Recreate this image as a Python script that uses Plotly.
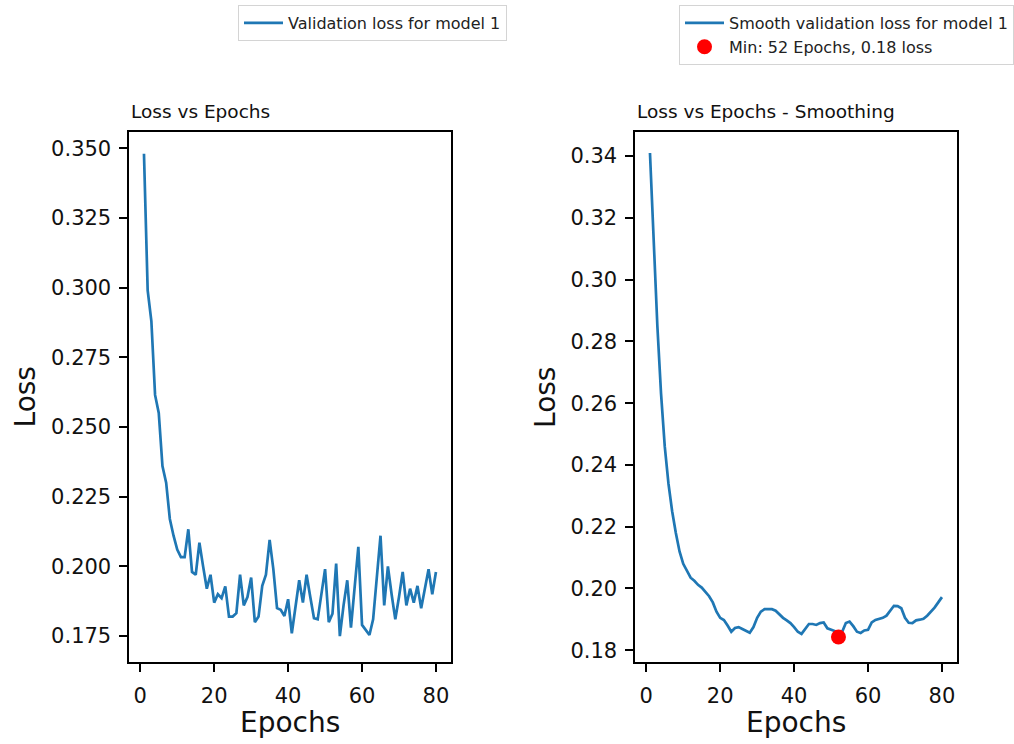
import plotly.graph_objects as go

# Validation loss per epoch (raw) and its smoothed version
epochs = list(range(1, 81))

val_loss = [
    0.348, 0.299, 0.288, 0.2615, 0.255, 0.236, 0.230, 0.217, 0.211, 0.206,
    0.2033, 0.2033, 0.2133, 0.198, 0.197, 0.2085, 0.200, 0.192, 0.197, 0.187,
    0.190, 0.1886, 0.1928, 0.182, 0.182, 0.1832, 0.197, 0.186, 0.189, 0.196,
    0.180, 0.182, 0.193, 0.197, 0.2095, 0.199, 0.185, 0.1844, 0.1822, 0.1882,
    0.176, 0.186, 0.195, 0.187, 0.197, 0.189, 0.1814, 0.181, 0.190, 0.199,
    0.180, 0.183, 0.201, 0.175, 0.186, 0.195, 0.178, 0.193, 0.207, 0.179,
    0.177, 0.1754, 0.181, 0.196, 0.211, 0.186, 0.200, 0.190, 0.181, 0.189,
    0.198, 0.186, 0.192, 0.187, 0.193, 0.185, 0.192, 0.199, 0.190, 0.198,
]

smooth_loss = [
    0.341, 0.312, 0.285, 0.263, 0.246, 0.234, 0.225, 0.218, 0.212, 0.208,
    0.2055, 0.2035, 0.2025, 0.2012, 0.2003, 0.199, 0.1975, 0.1955, 0.1925, 0.1905,
    0.1898, 0.188, 0.186, 0.1872, 0.1875, 0.1869, 0.1862, 0.1857, 0.1875, 0.1905,
    0.1925, 0.1933, 0.1933, 0.1933, 0.1928, 0.1915, 0.1905, 0.1897, 0.1888, 0.1875,
    0.186, 0.1853, 0.1868, 0.1885, 0.1885, 0.1882, 0.1888, 0.189, 0.1871, 0.1866,
    0.1862, 0.1843, 0.186, 0.1888, 0.1893, 0.1878, 0.186, 0.1856, 0.1864, 0.1866,
    0.189, 0.1898, 0.1901, 0.1905, 0.1912, 0.1928, 0.1944, 0.1943, 0.1936, 0.1905,
    0.1889, 0.1888, 0.1897, 0.1899, 0.1902, 0.1912, 0.1925, 0.1938, 0.1955, 0.1972,
]

x_ticks = [0, 20, 40, 60, 80]
left_y_ticks = [0.175, 0.200, 0.225, 0.250, 0.275, 0.300, 0.325, 0.350]
right_y_ticks = [0.18, 0.20, 0.22, 0.24, 0.26, 0.28, 0.30, 0.32, 0.34]

# best epoch of the smoothed curve
min_idx = min(range(len(smooth_loss)), key=lambda i: smooth_loss[i])
min_epoch = epochs[min_idx]
min_value = smooth_loss[min_idx]

W, H = 1014, 744
BLUE = "#1f77b4"
FONT = "DejaVu Sans"


def px_x(p):
    return p / W


def px_y(p):
    return 1 - p / H


fig = go.Figure()

fig.add_trace(go.Scatter(
    x=epochs, y=val_loss, mode="lines",
    line=dict(color=BLUE, width=2.7),
    name="Validation loss for model 1",
    xaxis="x", yaxis="y", legend="legend", showlegend=True,
))
fig.add_trace(go.Scatter(
    x=epochs, y=smooth_loss, mode="lines",
    line=dict(color=BLUE, width=2.7),
    name="Smooth validation loss for model 1",
    xaxis="x2", yaxis="y2", legend="legend2", showlegend=True,
))
fig.add_trace(go.Scatter(
    x=[min_epoch], y=[min_value], mode="markers",
    marker=dict(color="red", size=15),
    name=f"Min: {min_epoch} Epochs, {min_value:.2f} loss",
    xaxis="x2", yaxis="y2", legend="legend2", showlegend=True,
))

axis_common = dict(
    showgrid=False, zeroline=False,
    showline=True, linecolor="black", linewidth=1.9, mirror=True,
    ticks="outside", ticklen=8, tickwidth=1.5, tickcolor="black",
    tickfont=dict(family=FONT, size=21, color="#111111"),
)

y_dom = [px_y(662), px_y(132)]

legend_common = dict(
    xanchor="left", yanchor="top",
    bgcolor="white", bordercolor="#d4d4d4", borderwidth=1,
    itemwidth=39,
    font=dict(family=FONT, size=16, color="#222222"),
)

fig.update_layout(
    width=W, height=H, autosize=False,
    margin=dict(l=0, r=0, t=0, b=0),
    paper_bgcolor="white", plot_bgcolor="white",
    font=dict(family=FONT, color="black"),
    hovermode=False,
    showlegend=True,
    xaxis=dict(domain=[px_x(129.5), px_x(451)], range=[-2.95, 83.95],
               tickvals=x_ticks, anchor="y", ticklabelstandoff=6, **axis_common),
    yaxis=dict(domain=y_dom, range=[0.1657, 0.3558],
               tickvals=left_y_ticks, tickformat=".3f", anchor="x",
               ticklabelstandoff=4, **axis_common),
    xaxis2=dict(domain=[px_x(636), px_x(957.5)], range=[-2.95, 83.95],
                tickvals=x_ticks, anchor="y2", ticklabelstandoff=6, **axis_common),
    yaxis2=dict(domain=y_dom, range=[0.1762, 0.3478],
                tickvals=right_y_ticks, tickformat=".2f", anchor="x2",
                ticklabelstandoff=4, **axis_common),
    legend=dict(x=px_x(238), y=px_y(5), **legend_common),
    legend2=dict(x=px_x(680), y=px_y(5), **legend_common),
)

annotations = [
    # panel titles
    dict(text="Loss vs Epochs", x=px_x(129), y=px_y(111.2),
         xanchor="left", yanchor="middle", font=dict(size=18.5)),
    dict(text="Loss vs Epochs - Smoothing", x=px_x(636), y=px_y(111.2),
         xanchor="left", yanchor="middle", font=dict(size=18.5)),
    # axis titles
    dict(text="Epochs", x=px_x(290), y=px_y(722.5),
         xanchor="center", yanchor="middle", font=dict(size=28)),
    dict(text="Epochs", x=px_x(797), y=px_y(722.5),
         xanchor="center", yanchor="middle", font=dict(size=28)),
    dict(text="Loss", x=px_x(25.5), y=px_y(397), textangle=-90,
         xanchor="center", yanchor="middle", font=dict(size=28)),
    dict(text="Loss", x=px_x(545.5), y=px_y(397), textangle=-90,
         xanchor="center", yanchor="middle", font=dict(size=28)),
]
for a in annotations:
    a.update(xref="paper", yref="paper", showarrow=False)
    a["font"].update(family=FONT, color="#111111")
fig.update_layout(annotations=annotations)

fig.write_html("out.html", config={"displayModeBar": False})
